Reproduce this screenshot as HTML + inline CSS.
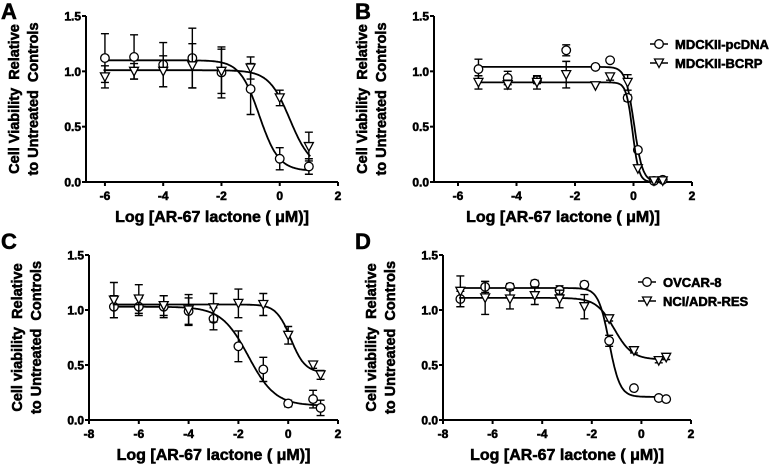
<!DOCTYPE html>
<html><head><meta charset="utf-8">
<style>
body{margin:0;background:#fff;}
svg{display:block;font-family:"Liberation Sans",Arial,sans-serif;}
svg text{font-weight:700;white-space:pre;stroke:#000;stroke-width:0.55px;fill:#000;}
</style></head>
<body>
<svg id="chart" width="774" height="464" viewBox="0 0 774 464"></svg>
<script>
// Panel A data
const aX = [-6,-5,-4,-3,-2,-1,0,1];
const aCirc = [1.12,1.13,1.06,1.12,0.99,0.84,0.21,0.14];
const aCircErr = [0.22,0.2,0.2,0.27,0.23,0.23,0.1,0.07];
const aTri = [0.95,1.0,1.0,1.05,1.0,1.03,0.76,0.32];
const aTriErr = [0.1,0.07,0.14,0.2,0.2,0.1,0.07,0.13];
const aCircFit = [1.1,0.1,-0.7,1.3];
const aTriFit = [1.01,0.12,0.35,1.2];
// Panel B data
const bX = [-5.3,-4.3,-3.3,-2.3,-1.3,-0.8,-0.2,0.15,0.7,1.0];
const bCirc = [1.02,0.94,0.92,1.19,1.04,1.1,0.76,0.29,0.01,0.02];
const bCircErr = [0.09,0.06,0.03,0.05,0,0,0.03,0,0,0];
const bTri = [0.9,0.88,0.9,0.97,0.87,0.95,0.9,0.12,0.01,0.01];
const bTriErr = [0.06,0.04,0.06,0.12,0,0.03,0.07,0,0,0];
const bCircFit = [1.04,0,0.02,3];
const bTriFit = [0.9,0,-0.03,4];
// Panel C data
const cX = [-7,-6,-5,-4,-3,-2,-1,0,1,1.3];
const cCirc = [1.03,1.03,1.03,0.99,0.92,0.67,0.46,0.15,0.19,0.11];
const cCircErr = [0.1,0.08,0.1,0.12,0.1,0.14,0.11,0.03,0.08,0.07];
const cTri = [1.09,1.1,1.04,1.0,1.02,1.06,1.05,0.77,0.5,0.41];
const cTriErr = [0.16,0.13,0.09,0.14,0.13,0.13,0.1,0.08,0.03,0.04];
const cCircFit = [1.03,0.13,-1.6,0.8];
const cTriFit = [1.05,0.43,0.1,1.5];
// Panel D data
const dX = [-7.3,-6.3,-5.3,-4.3,-3.3,-2.3,-1.3,-0.3,0.7,1.0];
const dCirc = [1.1,1.21,1.21,1.24,1.18,1.23,0.72,0.29,0.2,0.19];
const dCircErr = [0.07,0.05,0.03,0.03,0.04,0.03,0.05,0,0,0];
const dTri = [1.17,1.11,1.1,1.13,1.1,1.03,0.92,0.63,0.54,0.57];
const dTriErr = [0.14,0.15,0.09,0.08,0.08,0.11,0.02,0.02,0.02,0.02];
const dCircFit = [1.2,0.21,-1.3,2];
const dTriFit = [1.11,0.55,-1.1,1.2];

const yTicks = [0,0.5,1.0,1.5];
const NS='http://www.w3.org/2000/svg';
const svg=document.getElementById('chart');
function el(tag,attrs,parent,text){const e=document.createElementNS(NS,tag);for(const k in attrs)e.setAttribute(k,attrs[k]);if(text!==undefined){e.textContent=text;e.setAttribute('font-weight','bold');}(parent||svg).appendChild(e);return e;}

function panel(p){
  const g=el('g',{});
  
  
  const sx=v=>p.x0+(v-p.xmin)/(p.xmax-p.xmin)*(p.x1-p.x0);
  const sy=v=>p.y0-(v/1.5)*(p.y0-p.y1);
  const ax=el('path',{d:`M${p.x0},${p.y1}V${p.y0}H${p.x1}`,stroke:'#000','stroke-width':2,fill:'none'},g);
  
  
  yTicks.forEach(t=>{
    el('line',{x1:p.x0-4,x2:p.x0,y1:sy(t),y2:sy(t),stroke:'#000','stroke-width':2},g);
    const tl=el('text',{x:p.x0-5,y:sy(t)+4.5,'font-size':12,'text-anchor':'end'},g,t.toFixed(1));
    
    
  });
  p.xticks.forEach(t=>{
    el('line',{x1:sx(t),x2:sx(t),y1:p.y0,y2:p.y0+4,stroke:'#000','stroke-width':2},g);
    const tl=el('text',{x:sx(t),y:p.y0+18,'font-size':12,'text-anchor':'middle'},g,String(t));
    
    
  });
  const xt=el('text',{x:(p.x0+p.x1)/2,y:p.y0+40,'font-size':16,'text-anchor':'middle'},g,'Log [AR-67 lactone ( \u03BCM)]');
  
  
  const cy=(p.y0+p.y1)/2;
  const yt=el('text',{transform:`translate(${p.x0-67},${cy}) rotate(-90)`,'font-size':14.5,'text-anchor':'middle'},g,p.yl1);
  
  
  const yt2=el('text',{transform:`translate(${p.x0-48},${cy}) rotate(-90)`,'font-size':14.5,'text-anchor':'middle'},g,'to Untreated  Controls');
  
  
  const lt=el('text',{x:p.lx,y:p.ly,'font-size':22},g,p.letter);
  
  
  p.series.forEach(s=>{
    const [top,bot,ec,h]=s.fit;
    let d='';const xs=p.xs[0]-0.05, xe=p.xs[p.xs.length-1]+0.05;
    for(let i=0;i<=200;i++){const x=xs+(xe-xs)*i/200;const y=bot+(top-bot)/(1+Math.pow(10,(x-ec)*h));d+=(i?'L':'M')+sx(x).toFixed(1)+','+sy(y).toFixed(1);}
    const c=el('path',{d,stroke:'#000','stroke-width':1.8,fill:'none'},g);
    
    
    p.xs.forEach((xv,i)=>{
      const X=sx(xv),Y=sy(s.y[i]),e=s.err[i];
      if(e>0){
        const eb=el('path',{d:`M${X},${sy(s.y[i]+e)}V${sy(s.y[i]-e)}M${X-4},${sy(s.y[i]+e)}h8M${X-4},${sy(s.y[i]-e)}h8`,stroke:'#000','stroke-width':1.4,fill:'none'},g);
        
        
      }
      let m;
      if(s.shape==='c') m=el('circle',{cx:X,cy:Y,r:4.3,fill:'#fff',stroke:'#000','stroke-width':1.3},g);
      else m=el('path',{d:`M${X-4.5},${Y-4}L${X+4.5},${Y-4}L${X},${Y+4.5}Z`,fill:'#fff',stroke:'#000','stroke-width':1.3},g);
      
      
    });
  });
  if(p.legend){
    p.legend.forEach((lab,i)=>{
      const Y=p.legY+i*19,X=p.legX;
      const lg=el('g',{},g);
      
      
      el('line',{x1:X-9,x2:X+9,y1:Y,y2:Y,stroke:'#000','stroke-width':1.6},lg);
      if(i===0) el('circle',{cx:X,cy:Y,r:4.3,fill:'#fff',stroke:'#000','stroke-width':1.3},lg);
      else el('path',{d:`M${X-4.5},${Y-4}L${X+4.5},${Y-4}L${X},${Y+4.5}Z`,fill:'#fff',stroke:'#000','stroke-width':1.3},lg);
      el('text',{x:X+16,y:Y+5,'font-size':13},lg,lab);
    });
  }
}
panel({letter:'A',lx:1,ly:19,x0:86,x1:338,y0:182,y1:16,xmin:-6.65,xmax:2,xticks:[-6,-4,-2,0,2],yl1:'Cell Viability  Relative',xs:aX,
  series:[{name:'circle',shape:'c',y:aCirc,err:aCircErr,fit:aCircFit},{name:'triangle',shape:'t',y:aTri,err:aTriErr,fit:aTriFit}]});
panel({letter:'B',lx:355,ly:19,x0:434,x1:692,y0:182,y1:16,xmin:-6.82,xmax:2,xticks:[-6,-4,-2,0,2],yl1:'Cell Viability  Relative',xs:bX,
  series:[{name:'circle',shape:'c',y:bCirc,err:bCircErr,fit:bCircFit},{name:'triangle',shape:'t',y:bTri,err:bTriErr,fit:bTriFit}],
  legend:['MDCKII-pcDNA','MDCKII-BCRP'],legX:659,legY:44});
panel({letter:'C',lx:1,ly:249,x0:89,x1:338,y0:420,y1:255,xmin:-8,xmax:2,xticks:[-8,-6,-4,-2,0,2],yl1:'Cell viability  Relative',xs:cX,
  series:[{name:'circle',shape:'c',y:cCirc,err:cCircErr,fit:cCircFit},{name:'triangle',shape:'t',y:cTri,err:cTriErr,fit:cTriFit}]});
panel({letter:'D',lx:355,ly:249,x0:443,x1:691,y0:420,y1:255,xmin:-8,xmax:2,xticks:[-8,-6,-4,-2,0,2],yl1:'Cell viability  Relative',xs:dX,
  series:[{name:'circle',shape:'c',y:dCirc,err:dCircErr,fit:dCircFit},{name:'triangle',shape:'t',y:dTri,err:dTriErr,fit:dTriFit}],
  legend:['OVCAR-8','NCI/ADR-RES'],legX:647,legY:282});
</script>
</body></html>
